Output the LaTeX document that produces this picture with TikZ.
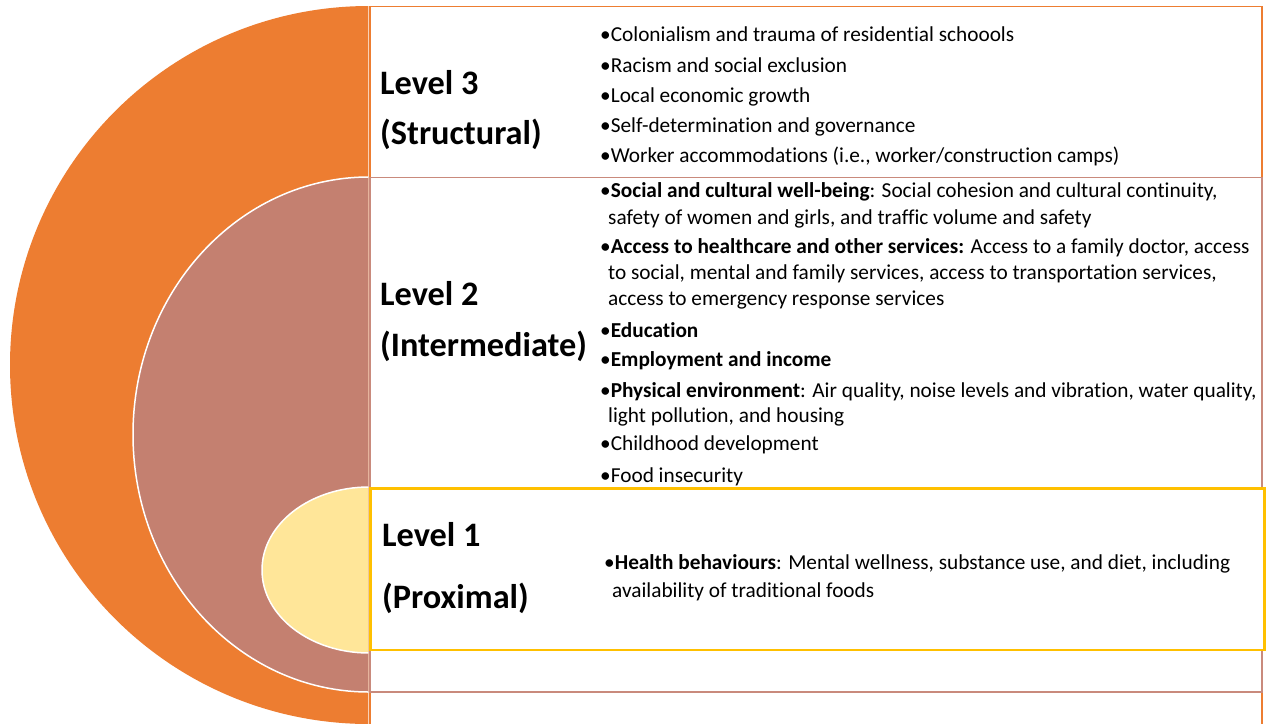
\documentclass[tikz,border=0pt]{standalone}
\usepackage{fontspec}
\setmainfont{Carlito}[Ligatures=NoCommon]
\definecolor{lvthree}{HTML}{ED7D31}
\definecolor{lvtwo}{HTML}{C48070}
\definecolor{lvtwoline}{HTML}{C98A7C}
\definecolor{lvonefill}{HTML}{FFE699}
\definecolor{lvoneline}{HTML}{FFC000}
\begin{document}
\begin{tikzpicture}[x=1pt,y=-1pt,
  body/.style={anchor=base west,inner sep=0pt,font=\fontsize{21.3}{25}\selectfont},
  lvl/.style={anchor=base west,inner sep=0pt,font=\fontsize{34.3}{38}\selectfont\bfseries}]
\useasboundingbox (0,0) rectangle (1266,723);
\clip (0,0) rectangle (1266,723);
% boxes
\draw[lvthree,line width=1.3] (370,6.5) rectangle (1262,760);
\draw[lvtwoline,line width=1.8,fill=white] (370,177.5) rectangle (1262,692);
\draw[lvoneline,line width=2.4,fill=white] (370.5,488.5) rectangle (1264.5,650);
% half discs
\begin{scope}
\clip (0,0) rectangle (368.3,723);
\fill[lvthree] (369,365) ellipse [x radius=359, y radius=359];
\fill[lvtwo,draw=white,line width=1.5] (369,434.5) ellipse [x radius=236, y radius=257.5];
\fill[lvonefill,draw=white,line width=1.5] (369,570) ellipse [x radius=107, y radius=83];
\end{scope}
% level labels
\node[lvl] (l3a) at (380,94) {Level 3};
\node[lvl] (l3b) at (380,144) {(Structural)};
\node[lvl] (l2a) at (380,305) {Level 2};
\node[lvl] (l2b) at (380,356) {(Intermediate)};
\node[lvl] (l1a) at (382,546) {Level 1};
\node[lvl] (l1b) at (382,608) {(Proximal)};
% level 3 items
\node[body] (a1) at (600,41) {•Colonialism and trauma of residential schoools};
\node[body] (a2) at (600,72) {•Racism and social exclusion};
\node[body] (a3) at (600,102) {•Local economic growth};
\node[body] (a4) at (600,132) {•Self-determination and governance};
\node[body] (a5) at (600,162) {•Worker accommodations (i.e., worker/construction camps)};
% level 2 items
\node[body] (b1) at (600,197) {•\textbf{Social and cultural well-being}: Social cohesion and cultural continuity,};
\node[body] (b1c) at (608,224) {safety of women and girls, and traffic volume and safety};
\node[body] (b2) at (600,253) {•\textbf{Access to healthcare and other services:} Access to a family doctor, access};
\node[body] (b2c) at (608,279) {to social, mental and family services, access to transportation services,};
\node[body] (b2d) at (608,305) {access to emergency response services};
\node[body] (b3) at (600,337) {•\textbf{Education}};
\node[body] (b4) at (600,366) {•\textbf{Employment and income}};
\node[body] (b5) at (600,397) {•\textbf{Physical environment}: Air quality, noise levels and vibration, water quality,};
\node[body] (b5c) at (608,422) {light pollution, and housing};
\node[body] (b6) at (600,450) {•Childhood development};
\node[body] (b7) at (600,482) {•Food insecurity};
% level 1 items
\node[body] (c1) at (604,569) {•\textbf{Health behaviours}: Mental wellness, substance use, and diet, including};
\node[body] (c1c) at (612,597) {availability of traditional foods};
\end{tikzpicture}
\end{document}
